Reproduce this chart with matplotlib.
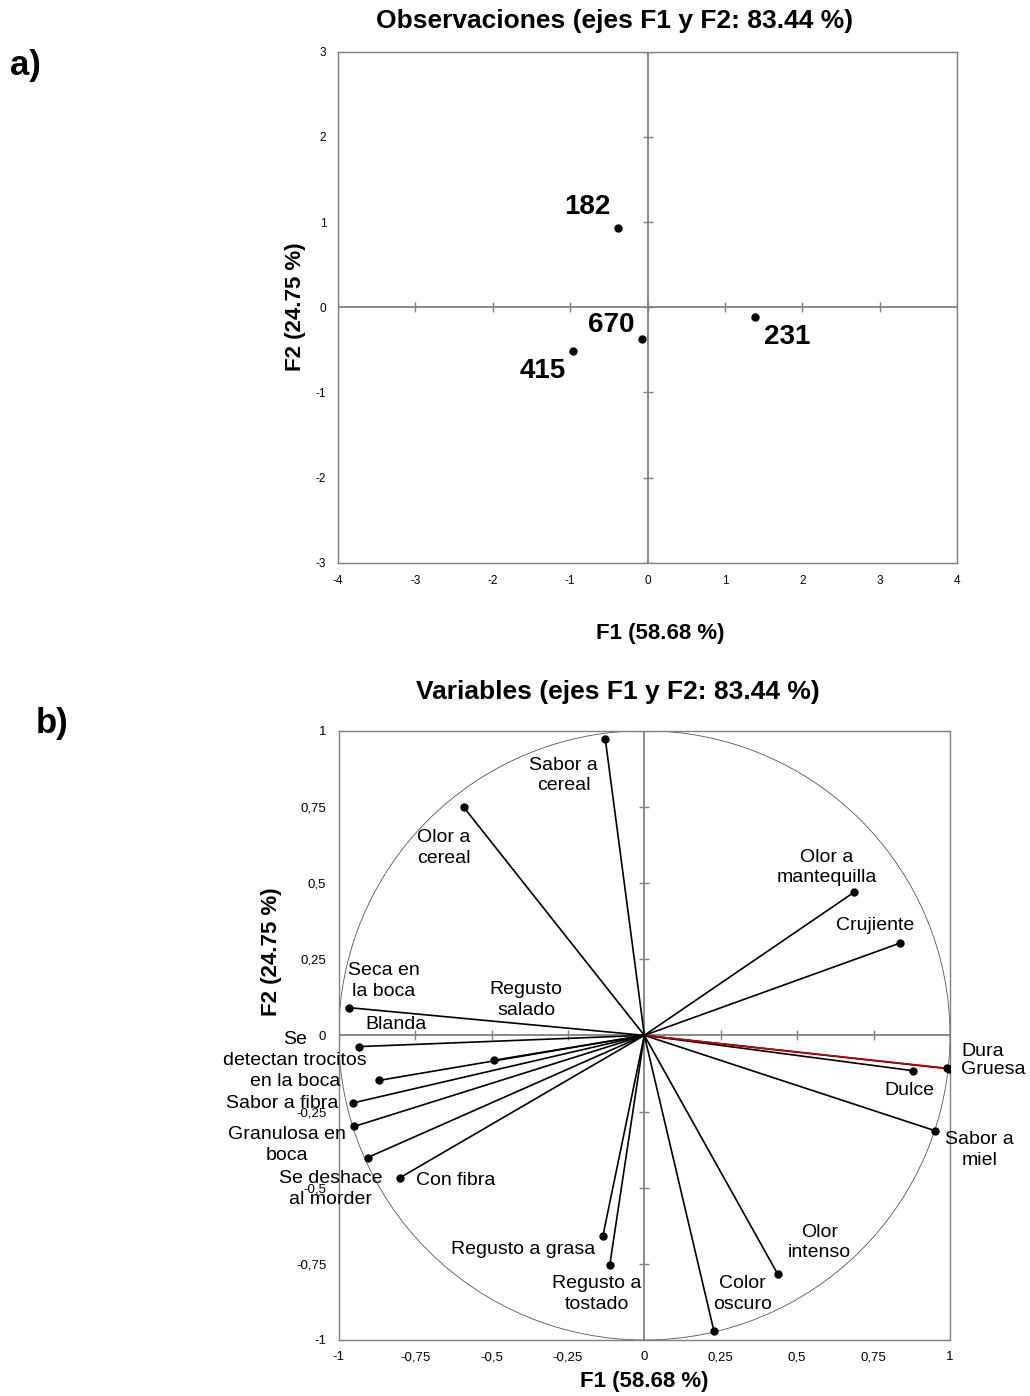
import matplotlib
matplotlib.use("Agg")
import matplotlib.pyplot as plt
from matplotlib.patches import Circle

plt.rcParams['font.family'] = ['Liberation Sans', 'DejaVu Sans']

# a) observaciones
obs_names = ['182', '670', '415', '231']
obs_f1 = [-0.38, -0.07, -0.96, 1.39]
obs_f2 = [0.93, -0.37, -0.51, -0.11]

obs_xticks = [-4, -3, -2, -1, 0, 1, 2, 3, 4]
obs_yticks = [-3, -2, -1, 0, 1, 2, 3]

# b) variables
var_names = ['Sabor a\ncereal', 'Olor a\ncereal', 'Seca en\nla boca', 'Blanda',
             'Regusto\nsalado', 'Se\ndetectan trocitos\nen la boca', 'Sabor a fibra',
             'Granulosa en\nboca', 'Se deshace\nal morder', 'Con fibra',
             'Regusto a grasa', 'Regusto a\ntostado', 'Color\noscuro', 'Olor\nintenso',
             'Sabor a\nmiel', 'Dulce', 'Gruesa', 'Dura', 'Crujiente',
             'Olor a\nmantequilla']
var_f1 = [-0.128, -0.591, -0.967, -0.935, -0.493, -0.869, -0.954, -0.949, -0.905,
          -0.799, -0.136, -0.113, 0.228, 0.436, 0.951, 0.879, 0.998, 0.990, 0.837, 0.685]
var_f2 = [0.974, 0.749, 0.091, -0.037, -0.082, -0.148, -0.222, -0.299, -0.401,
          -0.467, -0.660, -0.753, -0.972, -0.783, -0.313, -0.116, -0.110, -0.108, 0.303, 0.469]

var_ticks = [-1, -0.75, -0.5, -0.25, 0, 0.25, 0.5, 0.75, 1]
var_ticklabels = ['-1', '-0,75', '-0,5', '-0,25', '0', '0,25', '0,5', '0,75', '1']

# where the labels sit (layout)
obs_label_off = [(-22, 15), (-22, 10), (-22, -14.5), (23, -15)]
var_label_xy = [(-0.264, 0.853), (-0.657, 0.614), (-0.853, 0.179), (-0.811, 0.036),
                (-0.387, 0.115), (-1.142, -0.082), (-1.185, -0.224), (-1.169, -0.359),
                (-1.027, -0.503), (-0.618, -0.476), (-0.395, -0.704), (-0.155, -0.850),
                (0.322, -0.850), (0.572, -0.680), (1.097, -0.377), (0.867, -0.181),
                (1.142, -0.113), (1.106, -0.052), (0.756, 0.359), (0.598, 0.551)]

GRAY = '#808080'
W, H = 1030, 1396


def fx(px):
    return px / W


def fy(py):
    return 1 - py / H


fig = plt.figure(figsize=(10.30, 13.96), dpi=100)

# ---- a)
ax1 = fig.add_axes([fx(338), fy(562.7), fx(957 - 338), (562.7 - 51.7) / H])
ax1.set_xlim(-4, 4); ax1.set_ylim(-3, 3)
for s in ax1.spines.values():
    s.set_color(GRAY); s.set_linewidth(1.0)
ax1.axhline(0, color=GRAY, lw=1.3, zorder=1)
ax1.axvline(0, color=GRAY, lw=1.3, zorder=1)
ax1.plot(obs_xticks, [0] * len(obs_xticks), ls='none', marker='|', ms=7, mew=1.0, color=GRAY)
ax1.plot([0] * len(obs_yticks), obs_yticks, ls='none', marker='_', ms=7, mew=1.0, color=GRAY)
ax1.set_xticks(obs_xticks); ax1.set_yticks(obs_yticks)
ax1.set_xticklabels([str(t) for t in obs_xticks])
ax1.set_yticklabels([str(t) for t in obs_yticks])
ax1.tick_params(axis='x', length=0, pad=9, labelsize=8.5)
ax1.tick_params(axis='y', length=0, pad=8.5, labelsize=8.5)
ax1.plot(obs_f1, obs_f2, 'o', color='black', ms=5, zorder=3)
for name, x, y, off in zip(obs_names, obs_f1, obs_f2, obs_label_off):
    ax1.annotate(name, (x, y), xytext=off, textcoords='offset points',
                 ha='center', va='center', fontsize=20, fontweight='bold')

fig.text(fx(615), fy(21), 'Observaciones (ejes F1 y F2: 83.44 %)', ha='center', va='center',
         fontsize=19, fontweight='bold')
fig.text(fx(660), fy(633), 'F1 (58.68 %)', ha='center', va='center',
         fontsize=16, fontweight='bold')
fig.text(fx(295), fy(307), 'F2 (24.75 %)', ha='center', va='center', rotation=90,
         fontsize=16, fontweight='bold')
fig.text(fx(25), fy(65), 'a)', ha='center', va='center', fontsize=25, fontweight='bold')

# ---- b)
ax2 = fig.add_axes([fx(338.7), fy(1340), fx(950 - 338.7), (1340 - 730.7) / H])
ax2.set_xlim(-1, 1); ax2.set_ylim(-1, 1)
for s in ax2.spines.values():
    s.set_color(GRAY); s.set_linewidth(1.0)
ax2.axhline(0, color=GRAY, lw=1.3, zorder=1)
ax2.axvline(0, color=GRAY, lw=1.3, zorder=1)
ax2.plot(var_ticks, [0] * len(var_ticks), ls='none', marker='|', ms=7, mew=1.0, color=GRAY)
ax2.plot([0] * len(var_ticks), var_ticks, ls='none', marker='_', ms=7, mew=1.0, color=GRAY)
ax2.add_patch(Circle((0, 0), 1, fill=False, edgecolor='#555555', lw=0.6, zorder=1))
ax2.set_xticks(var_ticks); ax2.set_yticks(var_ticks)
ax2.set_xticklabels(var_ticklabels); ax2.set_yticklabels(var_ticklabels)
ax2.tick_params(axis='x', length=0, pad=8, labelsize=9.5)
ax2.tick_params(axis='y', length=0, pad=9, labelsize=9.5)
for name, x, y in zip(var_names, var_f1, var_f2):
    c = '#c00000' if name == 'Dura' else 'black'
    ax2.plot([0, x], [0, y], color=c, lw=1.2, zorder=2)
ax2.plot(var_f1, var_f2, 'o', color='black', ms=5, zorder=3)
for name, (lx, ly) in zip(var_names, var_label_xy):
    ax2.text(lx, ly, name, ha='center', va='center', fontsize=14,
             linespacing=1.3, zorder=4)

fig.text(fx(618), fy(692), 'Variables (ejes F1 y F2: 83.44 %)', ha='center', va='center',
         fontsize=19, fontweight='bold')
fig.text(fx(644), fy(1382), 'F1 (58.68 %)', ha='center', va='center',
         fontsize=16, fontweight='bold')
fig.text(fx(272), fy(952), 'F2 (24.75 %)', ha='center', va='center', rotation=90,
         fontsize=16, fontweight='bold')
fig.text(fx(52.5), fy(723.5), 'b)', ha='center', va='center', fontsize=25, fontweight='bold')

fig.savefig('out.png', dpi=100)
